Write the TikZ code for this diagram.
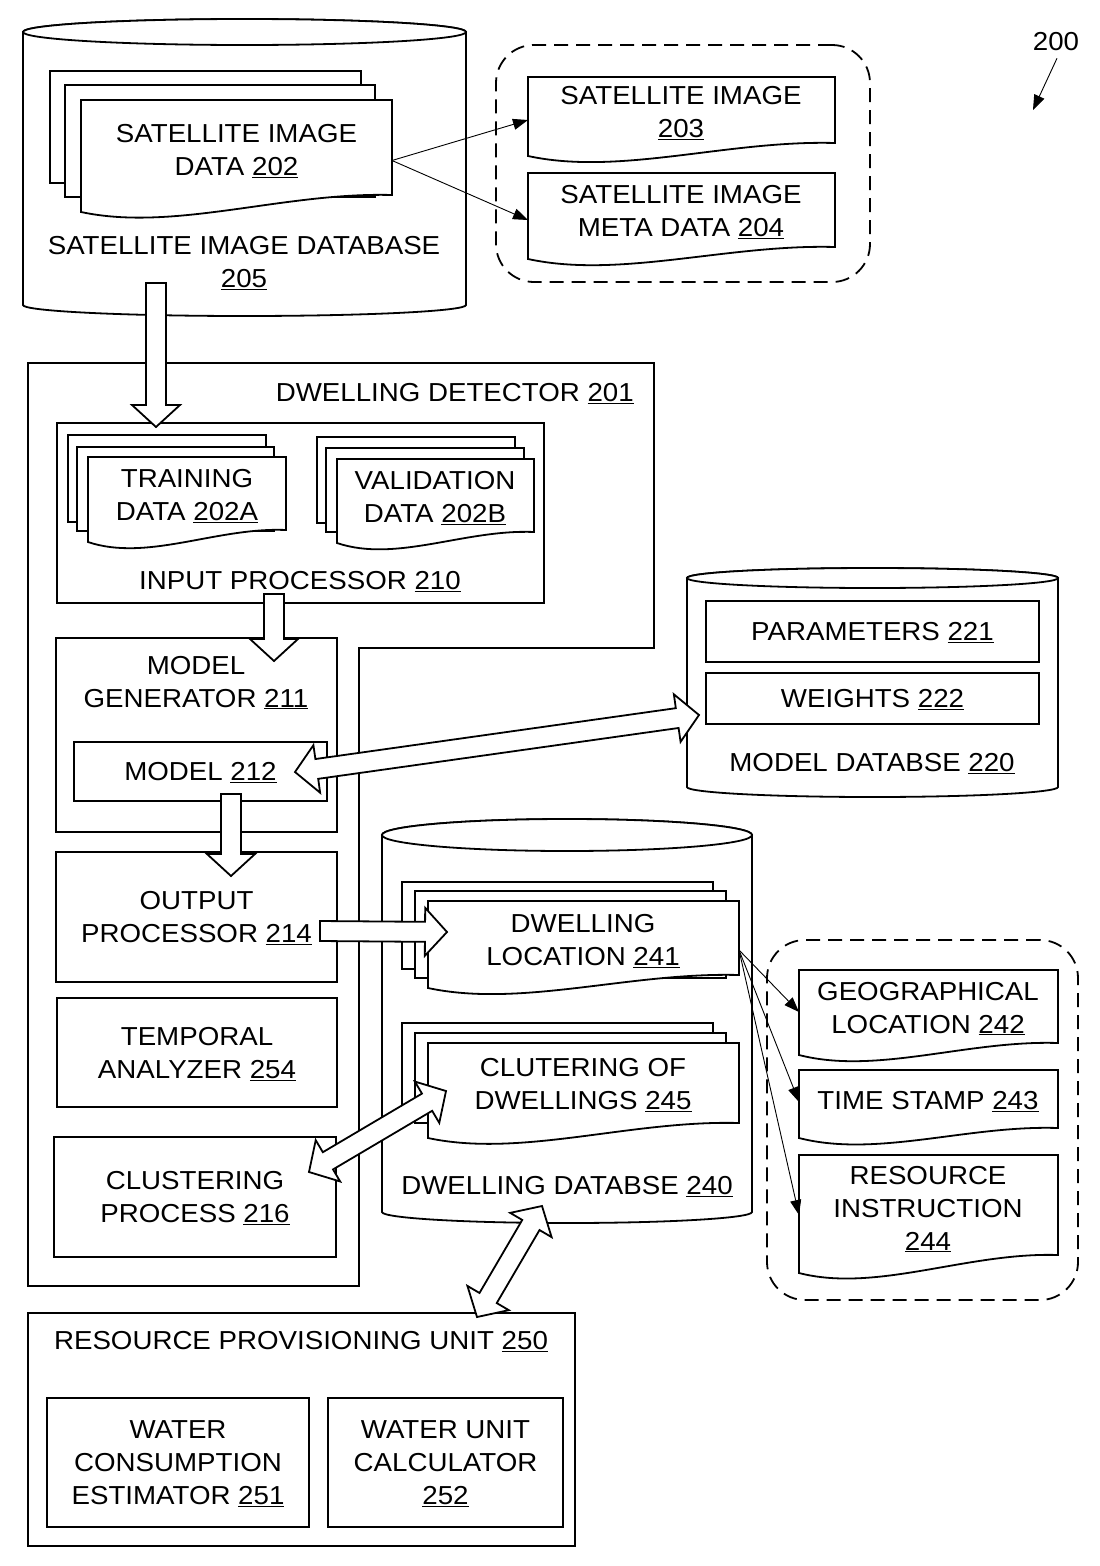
\documentclass[tikz,border=0pt]{standalone}
\usepackage{fontspec}
\setmainfont{Liberation Sans}[FakeStretch=1.065]
\usetikzlibrary{calc,arrows.meta}
\newcommand\myframe[5]{\node[blank,minimum width={#4pt-#2pt},minimum height={#5pt-#3pt},anchor=north west] (#1) at (#2,#3) {};}
\newcommand\mybox[6]{\node[rbox,minimum width={#4pt-#2pt},minimum height={#5pt-#3pt},anchor=north west] (#1) at (#2,#3) {#6};}
\newcommand\mysheet[4]{\draw[docline] (#1,#2) rectangle (#3,#4);}
\newcommand\mydoc[2]{\draw[docline] (#1.north west) -- (#1.north east) -- (#1.south east) .. controls ($(#1.south west)!0.65!(#1.south east)+(0pt,3pt)$) and ($(#1.south west)!0.3!(#1.south east)+(0pt,-#2pt-20pt)$) .. ($(#1.south west)+(0pt,-#2pt)$) -- cycle;}
\newcommand\mycyl[6]{%
 \draw[docline] (#1,#3) -- (#1,#5) arc[start angle=180,end angle=360,x radius={(#2-#1)/2*1pt},y radius=#6pt] -- (#2,#3) arc[start angle=0,end angle=180,x radius={(#2-#1)/2*1pt},y radius=#4pt] -- cycle;
 \draw[docline] ({(#1+#2)/2},#3) ellipse[x radius={(#2-#1)/2*1pt},y radius=#4pt];}
\newcommand\hollowone[2]{%
 \coordinate (hH) at ($(#2)!22pt!(#1)$);
 \draw[hollow] ($(#1)!10pt!90:(#2)$) -- ($(hH)!10pt!90:(#2)$) -- ($(hH)!24pt!90:(#2)$) -- (#2) -- ($(hH)!24pt!-90:(#2)$) -- ($(hH)!10pt!-90:(#2)$) -- ($(#1)!10pt!-90:(#2)$) -- cycle;}
\newcommand\hollowtwo[2]{%
 \coordinate (hA) at ($(#1)!22pt!(#2)$);
 \coordinate (hB) at ($(#2)!22pt!(#1)$);
 \draw[hollow] (#1) -- ($(hA)!24pt!90:(#2)$) -- ($(hA)!10pt!90:(#2)$) -- ($(hB)!10pt!-90:(#1)$) -- ($(hB)!24pt!-90:(#1)$) -- (#2) -- ($(hB)!24pt!90:(#1)$) -- ($(hB)!10pt!90:(#1)$) -- ($(hA)!10pt!-90:(#2)$) -- ($(hA)!24pt!-90:(#2)$) -- cycle;}
\tikzset{
 lbl/.style={font=\fontsize{26}{33}\selectfont, align=center, inner sep=0pt, text depth=0pt},
 blank/.style={inner sep=0pt, outer sep=0pt},
 rbox/.style={blank, lbl, draw, line width=1.8pt, fill=white},
 docline/.style={draw, line width=1.8pt, fill=white, line join=miter},
 hollow/.style={draw, line width=1.8pt, fill=white, line join=miter, miter limit=10},
 thinarrow/.style={line width=0.9pt, -{Triangle[length=15pt,width=11pt]}},
 dashbox/.style={blank, draw, line width=1.8pt, dash pattern=on 14pt off 8pt, rounded corners=38pt},
}
\begin{document}
\begin{tikzpicture}[x=1pt,y=-1pt]
\fill[white] (0,0) rectangle (1100,1566);
\useasboundingbox (0,0) rectangle (1100,1566);

% ---- satellite image database 205
\mycyl{23}{466}{32}{13}{305}{11}
\mysheet{50}{71}{361}{183}
\mysheet{65}{85}{375}{197}
\myframe{d202}{81}{100}{392}{195}
\mydoc{d202}{17}
\node[lbl] (t202) at (236.5,149.5) {SATELLITE IMAGE\\DATA \underline{202}};
\node[lbl] (t205) at (244,262) {SATELLITE IMAGE DATABASE\\\underline{205}};

% ---- dashed group 203/204
\node[dashbox,minimum width=374pt,minimum height=237pt,anchor=north west] (g1) at (496,45) {};
\myframe{d203}{528}{77}{835}{143}
\mydoc{d203}{13}
\node[lbl] (t203) at (681,112) {SATELLITE IMAGE\\\underline{203}};
\myframe{d204}{528}{173}{835}{247}
\mydoc{d204}{12}
\node[lbl] (t204) at (681,211) {SATELLITE IMAGE\\META DATA \underline{204}};
\draw[thinarrow] ([yshift=-13pt]d202.east) -- ([yshift=-10pt]d203.west);
\draw[thinarrow] ([yshift=-13pt]d202.east) -- ([yshift=-10pt]d204.west);

% ---- figure number
\node[lbl] (t200) at (1056,41) {200};
\coordinate (c200) at (1033,110);
\draw[thinarrow] ([shift={(1pt,-8pt)}]t200.south) -- (c200);

% ---- dwelling detector 201
\draw[line width=1.8pt] (28,363) -- (654,363) -- (654,648) -- (359,648) -- (359,1286) -- (28,1286) -- cycle;
\node[lbl,anchor=east] (t201) at (634,392) {DWELLING DETECTOR \underline{201}};

% input processor 210
\mybox{ip210}{57}{423}{544}{603}{}
\mysheet{68}{435}{266}{522}
\mysheet{77}{447}{274}{531}
\myframe{d202A}{88}{457}{286}{530}
\mydoc{d202A}{12}
\node[lbl] (t202A) at (187,495) {TRAINING\\DATA \underline{202A}};
\mysheet{317}{437}{515}{523}
\mysheet{326}{448}{524}{532}
\myframe{d202B}{337}{459}{534}{532}
\mydoc{d202B}{11}
\node[lbl] (t202B) at (435,497) {VALIDATION\\DATA \underline{202B}};
\node[lbl] (t210) at (300,580) {INPUT PROCESSOR \underline{210}};

% model generator 211
\mybox{mg211}{56}{638}{337}{832}{}
\node[lbl] (t211) at (196,681.5) {MODEL\\GENERATOR \underline{211}};
\mybox{m212}{74}{742}{327}{801}{MODEL \underline{212}}

% output processor, temporal analyzer, clustering process
\mybox{op214}{56}{852}{337}{982}{OUTPUT\\PROCESSOR \underline{214}}
\mybox{ta254}{57}{998}{337}{1107}{TEMPORAL\\ANALYZER \underline{254}}
\mybox{cp216}{54}{1137}{336}{1257}{CLUSTERING\\PROCESS \underline{216}}

% ---- model database 220
\mycyl{687}{1058}{578}{10}{787}{10}
\mybox{p221}{706}{601}{1039}{662}{PARAMETERS \underline{221}}
\mybox{w222}{706}{673}{1039}{724}{WEIGHTS \underline{222}}
\node[lbl] (t220) at (872,762) {MODEL DATABSE \underline{220}};

% ---- dwelling database 240
\mycyl{382}{752}{835}{16}{1212}{11}
\mysheet{402}{882}{713}{969}
\mysheet{415}{891}{726}{978}
\myframe{d241}{428}{901}{739}{975}
\mydoc{d241}{13}
\node[lbl] (t241) at (583,940) {DWELLING\\LOCATION \underline{241}};
\mysheet{402}{1023}{713}{1110}
\mysheet{415}{1033}{726}{1123}
\myframe{d245}{428}{1043}{739}{1123}
\mydoc{d245}{15}
\node[lbl] (t245) at (583,1084) {CLUTERING OF\\DWELLINGS \underline{245}};
\node[lbl] (t240) at (567,1185) {DWELLING DATABSE \underline{240}};

% ---- dashed group 242-244
\node[dashbox,minimum width=311pt,minimum height=360pt,anchor=north west] (g2) at (767,940) {};
\myframe{d242}{799}{970}{1058}{1043}
\mydoc{d242}{12}
\node[lbl] (t242) at (928,1007.5) {GEOGRAPHICAL\\LOCATION \underline{242}};
\myframe{d243}{799}{1070}{1058}{1128}
\mydoc{d243}{10}
\node[lbl] (t243) at (928,1100) {TIME STAMP \underline{243}};
\myframe{d244}{799}{1155}{1058}{1255}
\mydoc{d244}{18}
\node[lbl] (t244) at (928,1208) {RESOURCE\\INSTRUCTION\\\underline{244}};
\draw[thinarrow] ([yshift=-12pt]d241.east) -- ([yshift=-5.5pt]d242.west);
\draw[thinarrow] ([yshift=-12pt]d241.east) -- ([yshift=-3pt]d243.west);
\draw[thinarrow] ([yshift=-12pt]d241.east) -- ([yshift=-10pt]d244.west);

% ---- resource provisioning unit 250
\mybox{rp250}{28}{1313}{575}{1546}{}
\node[lbl] (t250) at (301,1340) {RESOURCE PROVISIONING UNIT \underline{250}};
\mybox{we251}{47}{1398}{309}{1527}{WATER\\CONSUMPTION\\ESTIMATOR \underline{251}}
\mybox{wu252}{328}{1398}{563}{1527}{WATER UNIT\\CALCULATOR\\\underline{252}}

% ---- hollow arrows
\coordinate (a1s) at (156,283);
\coordinate (a1e) at (156,427);
\hollowone{a1s}{a1e}
\coordinate (a2s) at (274,594);
\coordinate (a2e) at (274,661);
\hollowone{a2s}{a2e}
\coordinate (a3s) at (231,794);
\coordinate (a3e) at (231,876);
\hollowone{a3s}{a3e}
\coordinate (a4s) at (295,772);
\coordinate (a4e) at (699,715);
\hollowtwo{a4s}{a4e}
\coordinate (a5s) at (320,931);
\coordinate (a5e) at (447,932);
\hollowone{a5s}{a5e}
\coordinate (a6s) at (309,1172);
\coordinate (a6e) at (446,1091);
\hollowtwo{a6s}{a6e}
\coordinate (a7s) at (542,1206);
\coordinate (a7e) at (477,1317);
\hollowtwo{a7s}{a7e}
\end{tikzpicture}
\end{document}
